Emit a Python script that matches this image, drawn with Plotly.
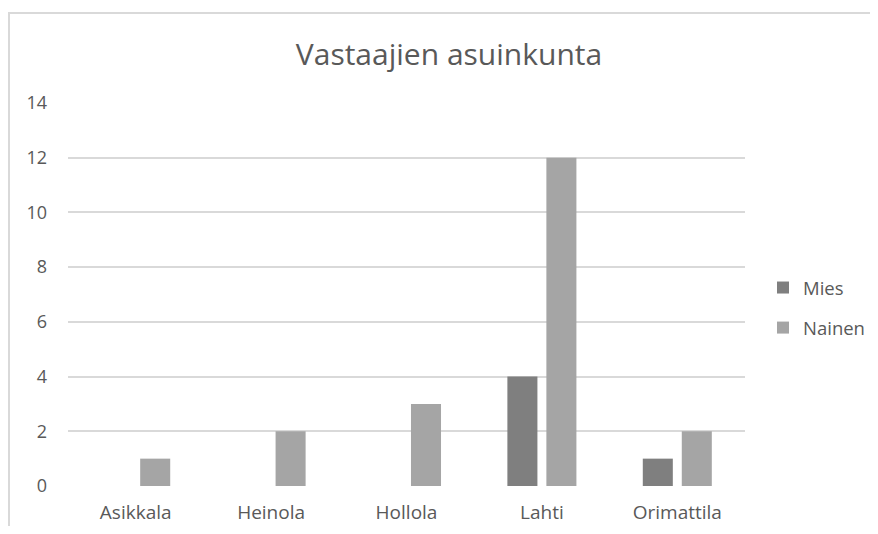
import plotly.graph_objects as go

categories = ["Asikkala", "Heinola", "Hollola", "Lahti", "Orimattila"]
mies = [0, 0, 0, 4, 1]
nainen = [1, 2, 3, 12, 2]
y_ticks = [0, 2, 4, 6, 8, 10, 12, 14]

FONT = "'Open Sans', Lato, sans-serif"
TXT = "#595959"

W, H = 870, 518
L, R, T, B = 60, 133, 95, 40
PW, PH = W - L - R, H - T - B

fig = go.Figure()
fig.add_trace(go.Bar(name="Mies", x=categories, y=mies, marker_color="#7f7f7f",
                     marker_line_width=0, legendgroup="a"))
fig.add_trace(go.Bar(name="Nainen", x=categories, y=nainen, marker_color="#a5a5a5",
                     marker_line_width=0, legendgroup="b"))

fig.update_layout(
    width=W, height=H,
    margin=dict(l=L, r=R, t=T, b=B, autoexpand=False),
    paper_bgcolor="white", plot_bgcolor="white",
    barmode="group", bargap=0.424, bargroupgap=0.23,
    title=dict(text="Vastaajien asuinkunta", x=(449 - 8) / W, xanchor="center",
               y=1 - 46 / H, yref="container", yanchor="middle",
               font=dict(family=FONT, size=30, color=TXT)),
    font=dict(family=FONT, size=18, color=TXT),
    showlegend=True,
    legend=dict(x=1 + 18 / PW, xanchor="left", y=(478 - 300) / PH, yanchor="middle",
                traceorder="grouped", tracegroupgap=13,
                font=dict(family=FONT, size=18.5, color=TXT),
                itemwidth=30),
    xaxis=dict(showgrid=False, showline=False, ticks="", zeroline=False,
               automargin=False, ticklabelstandoff=13,
               tickfont=dict(family=FONT, size=19, color=TXT)),
    yaxis=dict(range=[0, 14], tickvals=y_ticks, showgrid=True, automargin=False,
               gridcolor="#d9d9d9", gridwidth=2, zeroline=False, showline=False,
               ticks="", ticklabelstandoff=20,
               tickfont=dict(family=FONT, size=18, color=TXT)),
    shapes=[dict(type="rect", xref="paper", yref="paper",
                 x0=-(L - 1) / PW, x1=-(L - 1) / PW + 1000 / PW,
                 y0=-(B + 60) / PH, y1=1 + (T - 5) / PH,
                 line=dict(color="#d9d9d9", width=2), layer="below")],
)

fig.write_html("out.html")
